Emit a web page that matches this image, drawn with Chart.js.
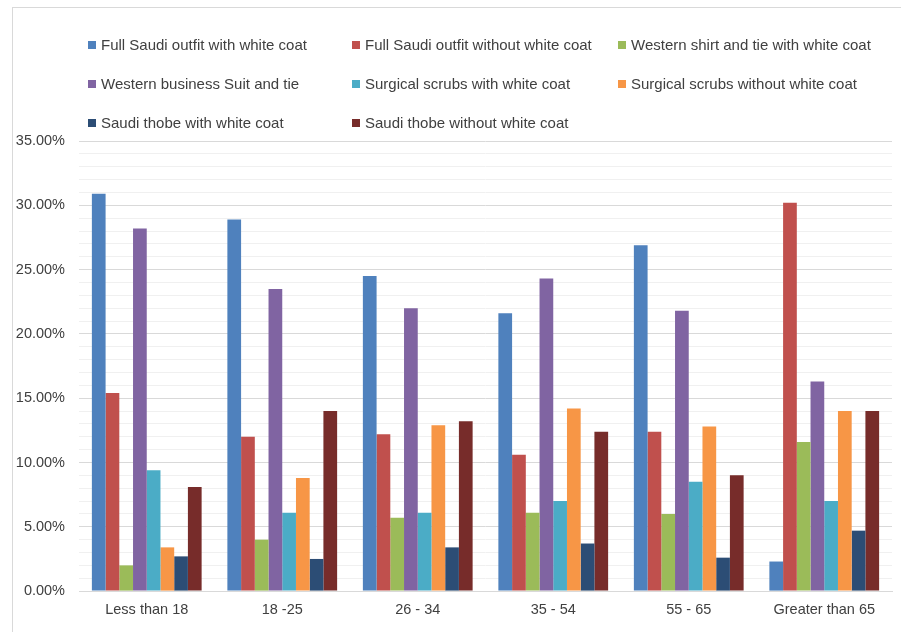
<!DOCTYPE html>
<html>
<head>
<meta charset="utf-8">
<script src="https://cdn.jsdelivr.net/npm/chart.js@4"></script>
<style>
    html, body { margin: 0; padding: 0; background: #fff; overflow: hidden; }
    #wrap { position: relative; width: 901px; height: 632px; }
    #frame { position: absolute; left: 12px; top: 7px; width: 1000px; height: 1000px; border: 1px solid #d9d9d9; box-sizing: border-box; }
    canvas { position: absolute; left: 0; top: 0; }
</style>
</head>
<body>
<div id="wrap">
    <div id="frame"></div>
    <canvas id="attireChart" width="901" height="632"></canvas>
</div>
<script>
// Age groups along the x axis
const ageGroups = ['Less than 18', '18 -25', '26 - 34', '35 - 54', '55 - 65', 'Greater than 65'];

// Preferred attire, percent of respondents per age group
const fullSaudiWithCoat = [30.9, 28.9, 24.5, 21.6, 26.9, 2.3];
const fullSaudiNoCoat = [15.4, 12.0, 12.2, 10.6, 12.4, 30.2];
const westernShirtTieCoat = [2.0, 4.0, 5.7, 6.1, 6.0, 11.6];
const westernSuitTie = [28.2, 23.5, 22.0, 24.3, 21.8, 16.3];
const scrubsWithCoat = [9.4, 6.1, 6.1, 7.0, 8.5, 7.0];
const scrubsNoCoat = [3.4, 8.8, 12.9, 14.2, 12.8, 14.0];
const thobeWithCoat = [2.7, 2.5, 3.4, 3.7, 2.6, 4.7];
const thobeNoCoat = [8.1, 14.0, 13.2, 12.4, 9.0, 14.0];

const seriesNames = [
    'Full Saudi outfit with white coat',
    'Full Saudi outfit without white coat',
    'Western shirt and tie with white coat',
    'Western business Suit and tie',
    'Surgical scrubs with white coat',
    'Surgical scrubs without white coat',
    'Saudi thobe with white coat',
    'Saudi thobe without white coat'
];
const seriesColors = ['#4f81bd', '#c0504d', '#9bbb59', '#8064a2', '#4bacc6', '#f79646', '#2c4d75', '#772c2a'];
const seriesValues = [fullSaudiWithCoat, fullSaudiNoCoat, westernShirtTieCoat, westernSuitTie,
    scrubsWithCoat, scrubsNoCoat, thobeWithCoat, thobeNoCoat];

const FONT = '"Liberation Sans", Arial, sans-serif';

// Legend laid out in a fixed 3-column grid, like the Excel original
const gridLegend = {
    id: 'gridLegend',
    afterDraw(chart) {
        const ctx = chart.ctx;
        const cols = [88, 352, 618];
        const rows = [45, 84, 123];
        ctx.save();
        ctx.font = '15px ' + FONT;
        ctx.textBaseline = 'middle';
        chart.data.datasets.forEach((ds, i) => {
            const x = cols[i % 3];
            const y = rows[Math.floor(i / 3)];
            ctx.fillStyle = ds.backgroundColor;
            ctx.fillRect(x, y - 4, 8, 8);
            ctx.fillStyle = '#404040';
            ctx.fillText(ds.label, x + 13, y + 1);
        });
        ctx.restore();
    }
};

new Chart(document.getElementById('attireChart'), {
    type: 'bar',
    data: {
        labels: ageGroups,
        datasets: seriesNames.map((name, i) => ({
            label: name,
            data: seriesValues[i],
            backgroundColor: seriesColors[i],
            borderWidth: 0,
            categoryPercentage: 0.81,
            barPercentage: 1.0
        }))
    },
    options: {
        responsive: false,
        animation: false,
        layout: {
            padding: { top: 141, right: 9, bottom: 3.5, left: 0 }
        },
        plugins: {
            legend: { display: false },
            tooltip: { enabled: false }
        },
        scales: {
            x: {
                grid: { display: false, drawTicks: false },
                border: { color: '#d9d9d9' },
                ticks: {
                    color: '#404040',
                    font: { family: FONT, size: 14.5 },
                    padding: 10
                }
            },
            y: {
                min: 0,
                max: 35,
                afterFit: function (scale) { scale.width = 79; },
                border: { display: false },
                grid: {
                    drawTicks: false,
                    color: function (c) {
                        return Math.round(c.tick.value) % 5 === 0 ? '#d9d9d9' : '#f0f0f0';
                    }
                },
                ticks: {
                    stepSize: 1,
                    autoSkip: false,
                    padding: 14,
                    color: '#404040',
                    font: { family: FONT, size: 14.5 },
                    callback: function (value) {
                        return Math.round(value) % 5 === 0 ? value.toFixed(2) + '%' : '';
                    }
                }
            }
        }
    },
    plugins: [gridLegend]
});
</script>
</body>
</html>
